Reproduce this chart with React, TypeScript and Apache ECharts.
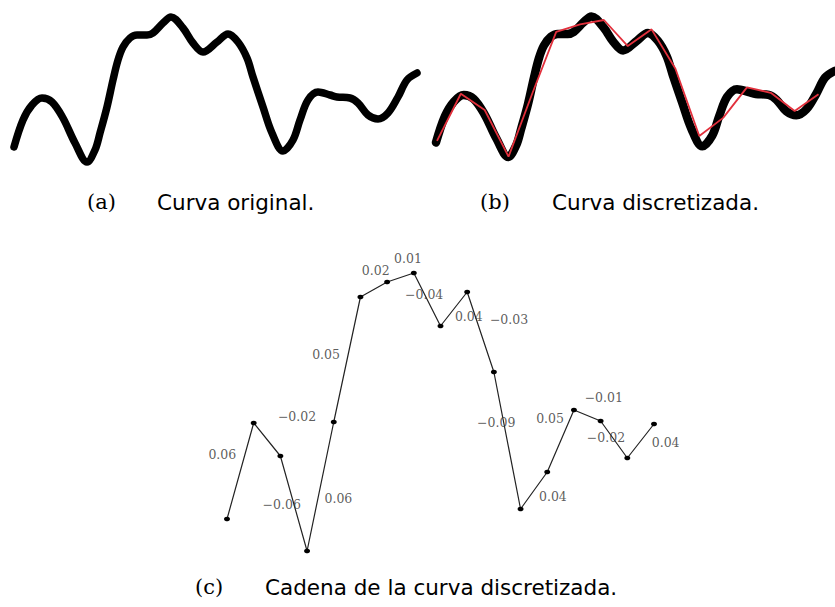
import React, { useEffect, useRef } from "react";
import * as echarts from "echarts";

// Original smooth curve (arbitrary units: x to the right, h upwards)
const curveX = [0, 9, 18, 28, 38, 49, 61, 73, 81, 86, 93, 99, 104, 109, 116, 123, 133, 139, 149, 157, 169, 179, 189, 203, 214, 224, 233, 239, 249, 258, 269, 279, 286, 294, 304, 316, 323, 336, 344, 354, 364, 374, 384, 393, 403];
const curveH = [23, 50, 65, 72, 68, 52, 27, 8, 20, 37, 63, 90, 110, 123, 132, 135, 135, 137, 147, 153, 142, 127, 118, 128, 136, 128, 112, 93, 63, 37, 19, 30, 50, 70, 78, 75, 73, 72, 67, 55, 51, 57, 73, 90, 97];

// Discretized chain (17 evenly spaced vertices), heights in arbitrary units
const chainH = [81, 177, 144, 49, 178, 303, 318, 327, 274, 308, 228, 91, 128, 190, 179, 142, 176];
// Value written next to each segment of the chain
const chainLabels = ["0.06", "\u22120.02", "\u22120.06", "0.06", "0.05", "0.02", "0.01", "\u22120.04", "0.04", "\u22120.03", "\u22120.09", "0.04", "0.05", "\u22120.01", "\u22120.02", "0.04"];

const captionTags = ["(a)", "(b)", "(c)"];
const captionTexts = ["Curva original.", "Curva discretizada.", "Cadena de la curva discretizada."];

// ---- layout only ----
const labelOffsets: number[][] = [
  [-18, -17], [30, -23.5], [-12, 0.5], [18, 11.5], [-21, -5.5], [2, -19.5], [7.5, -19.5], [-3, -5.5],
  [15, 7], [28.5, -13], [-11, -18.5], [19, 5.5], [-10.5, -23], [16.5, -18.5], [-8, -2.5], [25, 1],
];
const captionPos = [
  { tagX: 87, textX: 157, y: 202 },
  { tagX: 480, textX: 552, y: 202 },
  { tagX: 195, textX: 265, y: 587 },
];

export default function App() {
  const ref = useRef<HTMLDivElement>(null);
  useEffect(() => {
    if (!ref.current) return;
    const chart = echarts.init(ref.current, undefined, { renderer: "svg" });
    const curveData = curveX.map((x, i) => [x, curveH[i]]);
    const chainData = chainH.map((v, i) => [i, v]);
    const labelData = chainLabels.map((t, i) => ({
      value: [i + 0.5, (chainH[i] + chainH[i + 1]) / 2],
      label: { offset: labelOffsets[i] },
    }));
    const hiddenAxis = (gridIndex: number, min: number, max: number) => ({
      type: "value" as const, gridIndex, min, max, show: false,
      splitLine: { show: false }, axisLine: { show: false }, axisTick: { show: false }, axisLabel: { show: false },
    });
    const graphic: any[] = [];
    captionTags.forEach((tag, i) => {
      const p = captionPos[i];
      graphic.push({
        type: "text", x: p.tagX, y: p.y,
        style: { text: tag, font: '21px "DejaVu Serif"', fill: "#000", verticalAlign: "middle", textAlign: "left" },
      });
      graphic.push({
        type: "text", x: p.textX, y: p.y,
        style: { text: captionTexts[i], font: '21.5px "DejaVu Sans"', fill: "#000", verticalAlign: "middle", textAlign: "left" },
      });
    });
    chart.setOption({
      animation: false,
      backgroundColor: "#fff",
      grid: [
        { left: 14, top: 0, width: 403, height: 170 },
        { left: 436, top: -5.3, width: 403, height: 170 },
        { left: 437, top: 20, width: 381.5, height: 160.8 },
        { left: 227, top: 273, width: 427, height: 327 },
      ],
      xAxis: [hiddenAxis(0, 0, 403), hiddenAxis(1, 0, 403), hiddenAxis(2, 0, 16), hiddenAxis(3, 0, 16)],
      yAxis: [hiddenAxis(0, 0, 170), hiddenAxis(1, 0, 170), hiddenAxis(2, 0, 327), hiddenAxis(3, 0, 327)],
      series: [
        {
          type: "line", xAxisIndex: 0, yAxisIndex: 0, data: curveData, smooth: 0.35, showSymbol: false, clip: false,
          lineStyle: { color: "#000", width: 7.5, cap: "round", join: "round" },
        },
        {
          type: "line", xAxisIndex: 1, yAxisIndex: 1, data: curveData, smooth: 0.35, showSymbol: false, clip: false,
          lineStyle: { color: "#000", width: 8.5, cap: "round", join: "round" },
        },
        {
          type: "line", xAxisIndex: 2, yAxisIndex: 2, data: chainData, showSymbol: false, clip: false, z: 5,
          lineStyle: { color: "#e2303c", width: 1.8 },
        },
        {
          type: "line", xAxisIndex: 3, yAxisIndex: 3, data: chainData, clip: false,
          symbol: "circle", symbolSize: [6, 4.5], showSymbol: true,
          itemStyle: { color: "#000" },
          lineStyle: { color: "#222", width: 1.2 },
        },
        {
          type: "scatter", xAxisIndex: 3, yAxisIndex: 3, data: labelData, symbolSize: 1, clip: false, z: 6,
          itemStyle: { color: "rgba(0,0,0,0)" },
          label: {
            show: true, position: "inside",
            formatter: (p: any) => chainLabels[p.dataIndex],
            fontFamily: "DejaVu Serif", fontSize: 12.5, color: "#333",
          },
        },
      ],
      graphic,
    });
    return () => chart.dispose();
  }, []);
  return <div ref={ref} style={{ position: "fixed", left: 0, top: 0, width: 835, height: 607 }} />;
}
